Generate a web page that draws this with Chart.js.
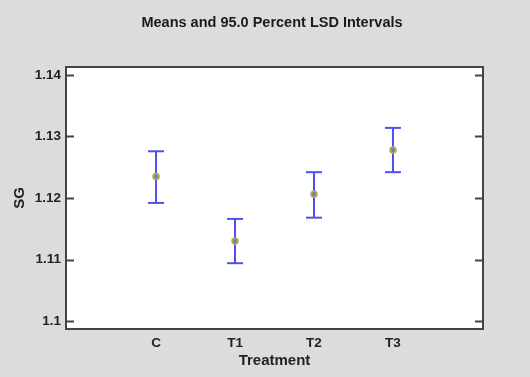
<!DOCTYPE html>
<html>
<head>
<meta charset="utf-8">
<script src="https://cdn.jsdelivr.net/npm/chart.js@4"></script>
<style>
  body { margin: 0; background: #dcdcdc; }
</style>
</head>
<body>
<canvas id="grafico" width="530" height="377"></canvas>
<script>
const tratamientos = ["C", "T1", "T2", "T3"];
const medias = [1.1235, 1.1130, 1.1206, 1.1278];
const limiteInf = [1.1192, 1.1094, 1.1168, 1.1242];
const limiteSup = [1.1276, 1.1166, 1.1242, 1.1314];
const ticksY = [1.10, 1.11, 1.12, 1.13, 1.14];
const etiquetasY = ["1.1", "1.11", "1.12", "1.13", "1.14"];

const fuente = "'Liberation Sans', Arial, sans-serif";
const azul = "#5050f0";

// barras verticales con huecos entre tratamientos
const barras = [];
const topes = [];
tratamientos.forEach((t, i) => {
  barras.push({ x: i, y: limiteInf[i] }, { x: i, y: limiteSup[i] }, { x: i, y: null });
  topes.push({ x: i, y: limiteInf[i] }, { x: i, y: limiteSup[i] });
});

// marco y marcas hacia dentro, como en el original
const marco = {
  id: "marco",
  beforeDraw(chart) {
    const { ctx, chartArea: a } = chart;
    ctx.save();
    ctx.fillStyle = "#ffffff";
    ctx.fillRect(a.left, a.top, a.right - a.left, a.bottom - a.top);
    ctx.restore();
  },
  afterDraw(chart) {
    const { ctx, chartArea: a, scales } = chart;
    ctx.save();
    ctx.strokeStyle = "#444";
    ctx.lineWidth = 2;
    ctx.strokeRect(a.left, a.top, a.right - a.left, a.bottom - a.top);
    ticksY.forEach(v => {
      const y = Math.round(scales.y.getPixelForValue(v)) + 0.5;
      ctx.beginPath();
      ctx.moveTo(a.left, y); ctx.lineTo(a.left + 8, y);
      ctx.moveTo(a.right, y); ctx.lineTo(a.right - 8, y);
      ctx.stroke();
    });
    ctx.restore();
  }
};

new Chart(document.getElementById("grafico"), {
  type: "scatter",
  data: {
    datasets: [
      {
        label: "Medias",
        data: tratamientos.map((t, i) => ({ x: i, y: medias[i] })),
        pointRadius: 3,
        pointBackgroundColor: "rgba(130,130,140,0.9)",
        pointBorderColor: "#b0ae55",
        pointBorderWidth: 1.5,
        order: 0
      },
      {
        label: "Intervalos",
        data: barras,
        showLine: true,
        spanGaps: false,
        borderColor: azul,
        borderWidth: 2,
        pointRadius: 0,
        order: 1
      },
      {
        label: "Topes",
        data: topes,
        pointStyle: "line",
        pointRadius: 8,
        pointBorderColor: azul,
        pointBorderWidth: 2,
        order: 1
      }
    ]
  },
  options: {
    responsive: false,
    animation: false,
    layout: { padding: { left: 14, right: 0, top: 0, bottom: 0 } },
    plugins: {
      legend: { display: false },
      tooltip: { enabled: false },
      title: {
        display: true,
        text: "Means and 95.0 Percent LSD Intervals",
        color: "#1a1a1a",
        font: { family: fuente, size: 14.5, weight: "bold" },
        padding: { top: 14, bottom: 35.6 }
      }
    },
    scales: {
      x: {
        type: "linear",
        min: -1.14,
        max: 4.14,
        afterBuildTicks: s => { s.ticks = tratamientos.map((t, i) => ({ value: i })); },
        afterFit: s => { s.height = 48; },
        grid: { display: false, drawTicks: false },
        border: { display: false },
        ticks: {
          padding: 6,
          color: "#222",
          font: { family: fuente, size: 13.5, weight: "bold" },
          callback: v => tratamientos[v]
        },
        title: {
          display: true,
          text: "Treatment",
          color: "#222",
          font: { family: fuente, size: 15, weight: "bold" },
          padding: { top: 0, bottom: 7 }
        }
      },
      y: {
        min: 1.0987,
        max: 1.1413,
        afterBuildTicks: s => { s.ticks = ticksY.map(v => ({ value: v })); },
        afterFit: s => { s.width = 52; },
        grid: { display: false, drawTicks: false },
        border: { display: false },
        ticks: {
          padding: 5,
          color: "#222",
          font: { family: fuente, size: 13.5, weight: "bold" },
          callback: v => etiquetasY[ticksY.indexOf(v)]
        },
        title: {
          display: true,
          text: "SG",
          color: "#222",
          font: { family: fuente, size: 15, weight: "bold" },
          padding: { top: -3, bottom: 0 }
        }
      },
      derecha: {
        type: "linear",
        position: "right",
        afterFit: s => { s.width = 47; },
        grid: { display: false, drawTicks: false },
        border: { display: false },
        ticks: { display: false }
      }
    }
  },
  plugins: [marco]
});
</script>
</body>
</html>
